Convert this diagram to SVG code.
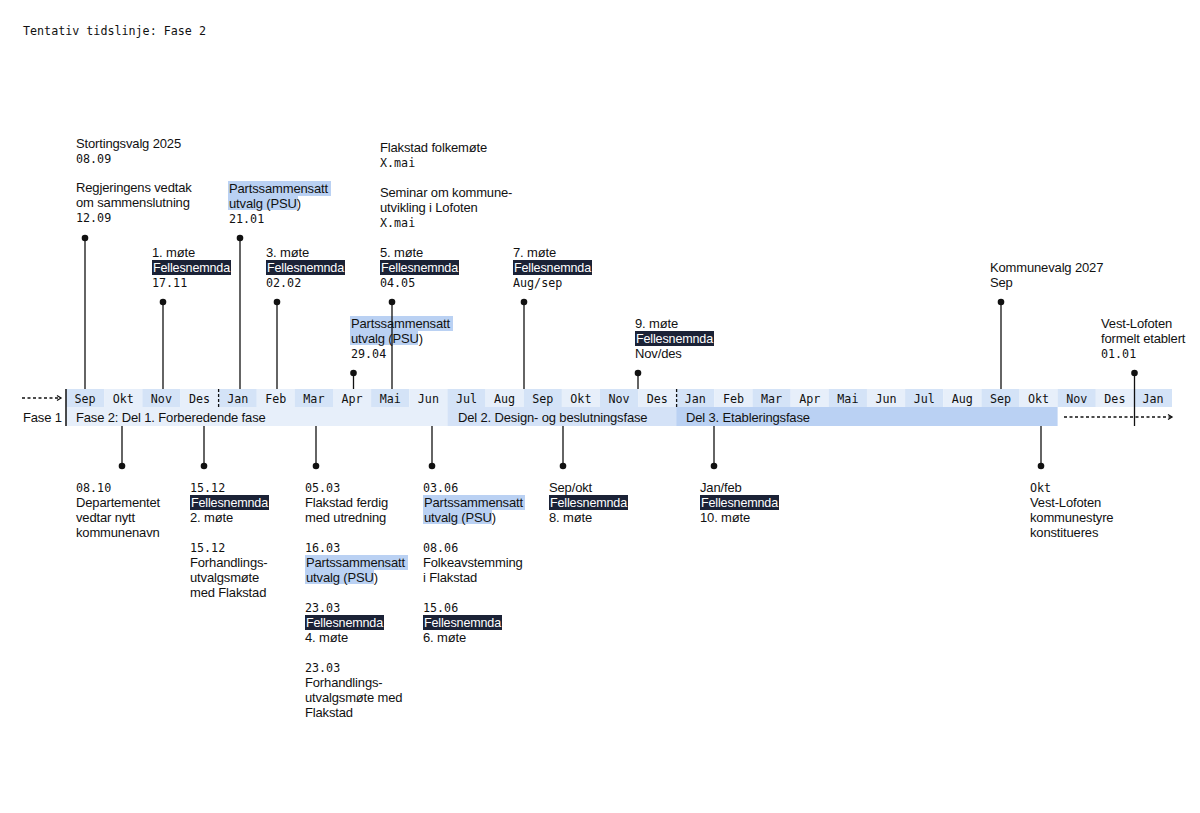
<svg xmlns="http://www.w3.org/2000/svg" width="1200" height="813" viewBox="0 0 1200 813">
<defs>
<style>
.s{font-family:"Liberation Sans",Arial,sans-serif;font-size:13px;fill:#111;letter-spacing:-0.15px}
.m{font-family:"DejaVu Sans Mono","Liberation Mono",monospace;font-size:11.7px;fill:#111}
.w{fill:#fff}
.hd{fill:#1b2236}
.hl{fill:#bad1f3}
.cd{fill:#d4e3f7}
.cl{fill:#e7effa}
.ln{stroke:#111;stroke-width:1.3;fill:none}
.dot{fill:#111}
.ml{font-family:"DejaVu Sans Mono","Liberation Mono",monospace;font-size:11.7px;fill:#111;text-anchor:middle}
</style>
<marker id="ah" viewBox="0 0 8 8" refX="6" refY="4" markerWidth="8" markerHeight="8" markerUnits="userSpaceOnUse" orient="auto">
<path d="M2,1.5 L6,4 L2,6.5" fill="none" stroke="#111" stroke-width="1.3"/>
</marker>
</defs>
<rect width="1200" height="813" fill="#fff"/>
<text class="m" x="23" y="35">Tentativ tidslinje: Fase 2</text>

<g id="timeline">
<rect class="cd" x="66" y="389" width="38.2" height="18"/>
<rect class="cl" x="104.1" y="389" width="38.2" height="18"/>
<rect class="cd" x="142.3" y="389" width="38.2" height="18"/>
<rect class="cl" x="180.4" y="389" width="38.2" height="18"/>
<rect class="cd" x="218.6" y="389" width="38.2" height="18"/>
<rect class="cl" x="256.7" y="389" width="38.2" height="18"/>
<rect class="cd" x="294.8" y="389" width="38.2" height="18"/>
<rect class="cl" x="333" y="389" width="38.2" height="18"/>
<rect class="cd" x="371.1" y="389" width="38.2" height="18"/>
<rect class="cl" x="409.3" y="389" width="38.2" height="18"/>
<rect class="cd" x="447.4" y="389" width="38.2" height="18"/>
<rect class="cl" x="485.5" y="389" width="38.2" height="18"/>
<rect class="cd" x="523.7" y="389" width="38.2" height="18"/>
<rect class="cl" x="561.8" y="389" width="38.2" height="18"/>
<rect class="cd" x="600" y="389" width="38.2" height="18"/>
<rect class="cl" x="638.1" y="389" width="38.2" height="18"/>
<rect class="cd" x="676.2" y="389" width="38.2" height="18"/>
<rect class="cl" x="714.4" y="389" width="38.2" height="18"/>
<rect class="cd" x="752.5" y="389" width="38.2" height="18"/>
<rect class="cl" x="790.7" y="389" width="38.2" height="18"/>
<rect class="cd" x="828.8" y="389" width="38.2" height="18"/>
<rect class="cl" x="866.9" y="389" width="38.2" height="18"/>
<rect class="cd" x="905.1" y="389" width="38.2" height="18"/>
<rect class="cl" x="943.2" y="389" width="38.2" height="18"/>
<rect class="cd" x="981.4" y="389" width="38.2" height="18"/>
<rect class="cl" x="1019.5" y="389" width="38.2" height="18"/>
<rect class="cd" x="1057.6" y="389" width="38.2" height="18"/>
<rect class="cl" x="1095.8" y="389" width="38.2" height="18"/>
<rect class="cd" x="1133.9" y="389" width="38.1" height="18"/>
<text class="ml" x="85.1" y="402.5">Sep</text>
<text class="ml" x="123.2" y="402.5">Okt</text>
<text class="ml" x="161.4" y="402.5">Nov</text>
<text class="ml" x="199.5" y="402.5">Des</text>
<text class="ml" x="237.7" y="402.5">Jan</text>
<text class="ml" x="275.8" y="402.5">Feb</text>
<text class="ml" x="313.9" y="402.5">Mar</text>
<text class="ml" x="352.1" y="402.5">Apr</text>
<text class="ml" x="390.2" y="402.5">Mai</text>
<text class="ml" x="428.4" y="402.5">Jun</text>
<text class="ml" x="466.5" y="402.5">Jul</text>
<text class="ml" x="504.6" y="402.5">Aug</text>
<text class="ml" x="542.8" y="402.5">Sep</text>
<text class="ml" x="580.9" y="402.5">Okt</text>
<text class="ml" x="619.1" y="402.5">Nov</text>
<text class="ml" x="657.2" y="402.5">Des</text>
<text class="ml" x="695.3" y="402.5">Jan</text>
<text class="ml" x="733.5" y="402.5">Feb</text>
<text class="ml" x="771.6" y="402.5">Mar</text>
<text class="ml" x="809.8" y="402.5">Apr</text>
<text class="ml" x="847.9" y="402.5">Mai</text>
<text class="ml" x="886" y="402.5">Jun</text>
<text class="ml" x="924.2" y="402.5">Jul</text>
<text class="ml" x="962.3" y="402.5">Aug</text>
<text class="ml" x="1000.5" y="402.5">Sep</text>
<text class="ml" x="1038.6" y="402.5">Okt</text>
<text class="ml" x="1076.7" y="402.5">Nov</text>
<text class="ml" x="1114.9" y="402.5">Des</text>
<text class="ml" x="1153" y="402.5">Jan</text>
<line x1="218.6" y1="389" x2="218.6" y2="407" stroke="#111" stroke-width="1.3" stroke-dasharray="3,2"/>
<line x1="676.6" y1="389" x2="676.6" y2="407" stroke="#111" stroke-width="1.3" stroke-dasharray="3,2"/>
</g>

<g id="phases">
<rect x="66" y="407" width="381.4" height="19" fill="#e7effa"/>
<rect x="447.4" y="407" width="228.8" height="19" fill="#d4e2f7"/>
<rect x="676.2" y="407" width="381.4" height="19" fill="#bad1f3"/>
<text class="s" x="23" y="422">Fase 1</text>
<text class="s" x="76" y="422">Fase 2: Del 1. Forberedende fase</text>
<text class="s" x="458" y="422">Del 2. Design- og beslutningsfase</text>
<text class="s" x="686" y="422">Del 3. Etableringsfase</text>
<line x1="66" y1="389" x2="66" y2="426" stroke="#111" stroke-width="1.5"/>
</g>

<g id="connectors">
<line x1="22" y1="398" x2="61" y2="398" class="ln" stroke-dasharray="3,2.5" marker-end="url(#ah)"/>
<line x1="1064" y1="417" x2="1172" y2="417" class="ln" stroke-dasharray="3,2.5" marker-end="url(#ah)"/>
<line class="ln" x1="85" y1="238" x2="85" y2="389"/><circle class="dot" cx="85" cy="238" r="3.3"/>
<line class="ln" x1="163" y1="302" x2="163" y2="389"/><circle class="dot" cx="163" cy="302" r="3.3"/>
<line class="ln" x1="240" y1="238" x2="240" y2="389"/><circle class="dot" cx="240" cy="238" r="3.3"/>
<line class="ln" x1="277" y1="302" x2="277" y2="389"/><circle class="dot" cx="277" cy="302" r="3.3"/>
<line class="ln" x1="353.5" y1="373" x2="353.5" y2="389"/><circle class="dot" cx="353.5" cy="373" r="3.3"/>
<line class="ln" x1="524" y1="302" x2="524" y2="389"/><circle class="dot" cx="524" cy="302" r="3.3"/>
<line class="ln" x1="638" y1="373" x2="638" y2="389"/><circle class="dot" cx="638" cy="373" r="3.3"/>
<line class="ln" x1="1001" y1="302" x2="1001" y2="389"/><circle class="dot" cx="1001" cy="302" r="3.3"/>
<line class="ln" x1="1134.5" y1="373" x2="1134.5" y2="426"/><circle class="dot" cx="1134.5" cy="373" r="3.3"/>
<line class="ln" x1="122" y1="426" x2="122" y2="466"/><circle class="dot" cx="122" cy="466" r="3.3"/>
<line class="ln" x1="204" y1="426" x2="204" y2="466"/><circle class="dot" cx="204" cy="466" r="3.3"/>
<line class="ln" x1="316" y1="426" x2="316" y2="466"/><circle class="dot" cx="316" cy="466" r="3.3"/>
<line class="ln" x1="432" y1="426" x2="432" y2="466"/><circle class="dot" cx="432" cy="466" r="3.3"/>
<line class="ln" x1="563" y1="426" x2="563" y2="466"/><circle class="dot" cx="563" cy="466" r="3.3"/>
<line class="ln" x1="714" y1="426" x2="714" y2="466"/><circle class="dot" cx="714" cy="466" r="3.3"/>
<line class="ln" x1="1041" y1="426" x2="1041" y2="466"/><circle class="dot" cx="1041" cy="466" r="3.3"/>
</g>

<g id="ev-stortingsvalg">
<text class="s" x="76" y="148">Stortingsvalg 2025</text>
<text class="m" x="76" y="163">08.09</text>
</g>
<g id="ev-regjeringen">
<text class="s" x="76" y="192">Regjeringens vedtak</text>
<text class="s" x="76" y="207">om sammenslutning</text>
<text class="m" x="76" y="222">12.09</text>
</g>
<g id="ev-psu-2101">
<rect class="hl" x="228" y="181" width="103" height="15"/>
<rect class="hl" x="228" y="196" width="70" height="14"/>
<text class="s" x="229" y="193">Partssammensatt</text>
<text class="s" x="229" y="208">utvalg (PSU)</text>
<text class="m" x="229" y="223">21.01</text>
</g>
<g id="ev-mote1">
<text class="s" x="152" y="257">1. møte</text>
<rect class="hd" x="152" y="260" width="79" height="15"/>
<text class="s w" x="153" y="272" textLength="77" lengthAdjust="spacingAndGlyphs">Fellesnemnda</text>
<text class="m" x="152" y="287">17.11</text>
</g>
<g id="ev-mote3">
<text class="s" x="266" y="257">3. møte</text>
<rect class="hd" x="266" y="260" width="79" height="15"/>
<text class="s w" x="267" y="272" textLength="77" lengthAdjust="spacingAndGlyphs">Fellesnemnda</text>
<text class="m" x="266" y="287">02.02</text>
</g>
<g id="ev-folkemote">
<text class="s" x="380" y="152">Flakstad folkemøte</text>
<text class="m" x="380" y="167">X.mai</text>
</g>
<g id="ev-seminar">
<text class="s" x="380" y="197">Seminar om kommune-</text>
<text class="s" x="380" y="212">utvikling i Lofoten</text>
<text class="m" x="380" y="227">X.mai</text>
</g>
<g id="ev-mote5">
<text class="s" x="380" y="257">5. møte</text>
<rect class="hd" x="380" y="260" width="79" height="15"/>
<text class="s w" x="381" y="272" textLength="77" lengthAdjust="spacingAndGlyphs">Fellesnemnda</text>
<text class="m" x="380" y="287">04.05</text>
</g>
<g id="ev-psu-2904">
<rect class="hl" x="350" y="316" width="103" height="15"/>
<rect class="hl" x="350" y="331" width="68" height="14"/>
<text class="s" x="351" y="328">Partssammensatt</text>
<text class="s" x="351" y="343">utvalg (PSU)</text>
<text class="m" x="351" y="358">29.04</text>
</g>
<g id="connector-mai">
<line class="ln" x1="392" y1="302" x2="392" y2="389"/><circle class="dot" cx="392" cy="302" r="3.3"/>
</g>
<g id="ev-mote7">
<text class="s" x="513" y="257">7. møte</text>
<rect class="hd" x="513" y="260" width="79" height="15"/>
<text class="s w" x="514" y="272" textLength="77" lengthAdjust="spacingAndGlyphs">Fellesnemnda</text>
<text class="m" x="513" y="287">Aug/sep</text>
</g>
<g id="ev-mote9">
<text class="s" x="635" y="328">9. møte</text>
<rect class="hd" x="635" y="331" width="79" height="15"/>
<text class="s w" x="636" y="343" textLength="77" lengthAdjust="spacingAndGlyphs">Fellesnemnda</text>
<text class="s" x="635" y="358">Nov/des</text>
</g>
<g id="ev-kommunevalg">
<text class="s" x="990" y="272">Kommunevalg 2027</text>
<text class="s" x="990" y="287">Sep</text>
</g>
<g id="ev-etablert">
<text class="s" x="1101" y="328">Vest-Lofoten</text>
<text class="s" x="1101" y="343">formelt etablert</text>
<text class="m" x="1101" y="358">01.01</text>
</g>

<g id="ev-0810">
<text class="m" x="76" y="492">08.10</text>
<text class="s" x="76" y="507">Departementet</text>
<text class="s" x="76" y="522">vedtar nytt</text>
<text class="s" x="76" y="537">kommunenavn</text>
</g>
<g id="ev-mote2">
<text class="m" x="190" y="492">15.12</text>
<rect class="hd" x="190" y="495" width="79" height="15"/>
<text class="s w" x="191" y="507" textLength="77" lengthAdjust="spacingAndGlyphs">Fellesnemnda</text>
<text class="s" x="190" y="522">2. møte</text>
</g>
<g id="ev-forh-1512">
<text class="m" x="190" y="552">15.12</text>
<text class="s" x="190" y="567">Forhandlings-</text>
<text class="s" x="190" y="582">utvalgsmøte</text>
<text class="s" x="190" y="597">med Flakstad</text>
</g>
<g id="ev-0503">
<text class="m" x="305" y="492">05.03</text>
<text class="s" x="305" y="507">Flakstad ferdig</text>
<text class="s" x="305" y="522">med utredning</text>
</g>
<g id="ev-psu-1603">
<text class="m" x="305" y="552">16.03</text>
<rect class="hl" x="305" y="555" width="103" height="15"/>
<rect class="hl" x="305" y="570" width="69" height="14"/>
<text class="s" x="306" y="567">Partssammensatt</text>
<text class="s" x="306" y="582">utvalg (PSU)</text>
</g>
<g id="ev-mote4">
<text class="m" x="305" y="612">23.03</text>
<rect class="hd" x="305" y="615" width="79" height="15"/>
<text class="s w" x="306" y="627" textLength="77" lengthAdjust="spacingAndGlyphs">Fellesnemnda</text>
<text class="s" x="305" y="642">4. møte</text>
</g>
<g id="ev-forh-2303">
<text class="m" x="305" y="672">23.03</text>
<text class="s" x="305" y="687">Forhandlings-</text>
<text class="s" x="305" y="702">utvalgsmøte med</text>
<text class="s" x="305" y="717">Flakstad</text>
</g>
<g id="ev-psu-0306">
<text class="m" x="423" y="492">03.06</text>
<rect class="hl" x="423" y="495" width="102" height="15"/>
<rect class="hl" x="423" y="510" width="69" height="14"/>
<text class="s" x="424" y="507">Partssammensatt</text>
<text class="s" x="424" y="522">utvalg (PSU)</text>
</g>
<g id="ev-folkeavstemming">
<text class="m" x="423" y="552">08.06</text>
<text class="s" x="423" y="567">Folkeavstemming</text>
<text class="s" x="423" y="582">i Flakstad</text>
</g>
<g id="ev-mote6">
<text class="m" x="423" y="612">15.06</text>
<rect class="hd" x="423" y="615" width="79" height="15"/>
<text class="s w" x="424" y="627" textLength="77" lengthAdjust="spacingAndGlyphs">Fellesnemnda</text>
<text class="s" x="423" y="642">6. møte</text>
</g>
<g id="ev-mote8">
<text class="s" x="549" y="492">Sep/okt</text>
<rect class="hd" x="549" y="495" width="79" height="15"/>
<text class="s w" x="550" y="507" textLength="77" lengthAdjust="spacingAndGlyphs">Fellesnemnda</text>
<text class="s" x="549" y="522">8. møte</text>
</g>
<g id="ev-mote10">
<text class="s" x="700" y="492">Jan/feb</text>
<rect class="hd" x="700" y="495" width="79" height="15"/>
<text class="s w" x="701" y="507" textLength="77" lengthAdjust="spacingAndGlyphs">Fellesnemnda</text>
<text class="s" x="700" y="522">10. møte</text>
</g>
<g id="ev-kommunestyre">
<text class="m" x="1030" y="492">Okt</text>
<text class="s" x="1030" y="507">Vest-Lofoten</text>
<text class="s" x="1030" y="522">kommunestyre</text>
<text class="s" x="1030" y="537">konstitueres</text>
</g>
</svg>
